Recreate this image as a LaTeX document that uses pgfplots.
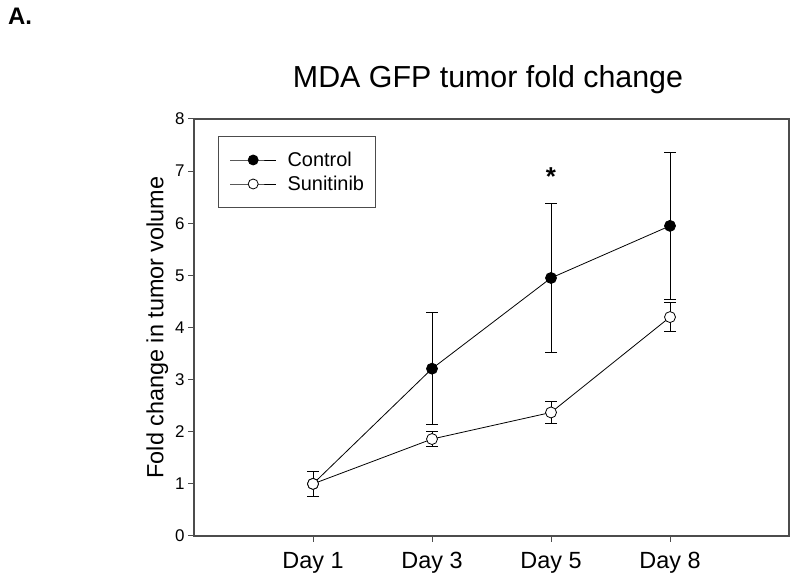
\documentclass[border=0pt]{standalone}
\usepackage{fontspec}
\setmainfont{Liberation Sans}
\usepackage{pgfplots}
\usepackage{pgfplotstable}
\pgfplotsset{compat=1.18}

% fold change in tumor volume, mean and error
\pgfplotstableread{
x y err
1 1.00 0.235
2 3.21 1.08
3 4.95 1.43
4 5.95 1.41
}\control
\pgfplotstableread{
x y err
1 1.00 0.235
2 1.86 0.15
3 2.37 0.215
4 4.20 0.27
}\sunitinib

\begin{document}
\begin{tikzpicture}[x=1bp,y=1bp]
\path[use as bounding box] (0,0) rectangle (800,588);
\node[anchor=north west, font=\bfseries\fontsize{24}{28}\selectfont, inner sep=0pt] at (8,580) {A.};
\node[font=\fontsize{30.5}{34}\selectfont] at (488,508) {MDA GFP tumor fold change};
\begin{axis}[
    at={(194bp,52bp)}, anchor=south west,
    width=595bp, height=417bp, scale only axis,
    xmin=0, xmax=5, ymin=0, ymax=8,
    xtick={1,2,3,4},
    xticklabels={Day 1,Day 3,Day 5,Day 8},
    ytick={0,1,...,8},
    xtick pos=bottom, ytick pos=left,
    tick align=outside,
    major tick length=6bp,
    axis line style={draw=black!70, line width=1.4pt},
    every tick/.style={draw=black!70, line width=1pt},
    /pgf/number format/assume math mode=true,
    yticklabel style={font=\fontsize{17}{20}\selectfont},
    xticklabel style={font=\fontsize{23.5}{26}\selectfont, yshift=-7bp},
    ylabel={Fold change in tumor volume},
    ylabel style={font=\fontsize{23.5}{26}\selectfont},
    legend style={at={(0.041,0.959)}, anchor=north west, draw=black!70, line width=0.8pt,
        font=\fontsize{20}{23}\selectfont, inner xsep=11bp, inner ysep=11.5bp,
        nodes={inner xsep=0pt, inner ysep=5bp, text height=14bp, text depth=0bp},
        row sep=0bp, cells={anchor=west},
        /tikz/every odd column/.append style={column sep=11bp}},
    legend cell align=left,
    legend image code/.code={\draw[#1, mark size=5bp, mark repeat=2, mark phase=2]
        plot coordinates {(0bp,0bp) (23bp,0bp) (46bp,0bp)};},
]
\addplot[black, line width=0.8pt, mark=*, mark size=5.5bp, mark options={fill=black},
    error bars/.cd, y dir=both, y explicit,
    error bar style={line width=1pt},
    error mark options={rotate=90, mark size=6bp, line width=1pt}]
    table[x=x, y=y, y error=err] {\control};
\addlegendentry{Control}
\addplot[black, line width=0.8pt, mark=*, mark size=5.5bp, mark options={fill=white},
    error bars/.cd, y dir=both, y explicit,
    error bar style={line width=1pt},
    error mark options={rotate=90, mark size=6bp, line width=1pt}]
    table[x=x, y=y, y error=err] {\sunitinib};
\addlegendentry{Sunitinib}
\node[font=\bfseries\fontsize{26}{26}\selectfont, yshift=-5bp] at (axis cs:3,7) {*};
\end{axis}
\end{tikzpicture}
\end{document}
